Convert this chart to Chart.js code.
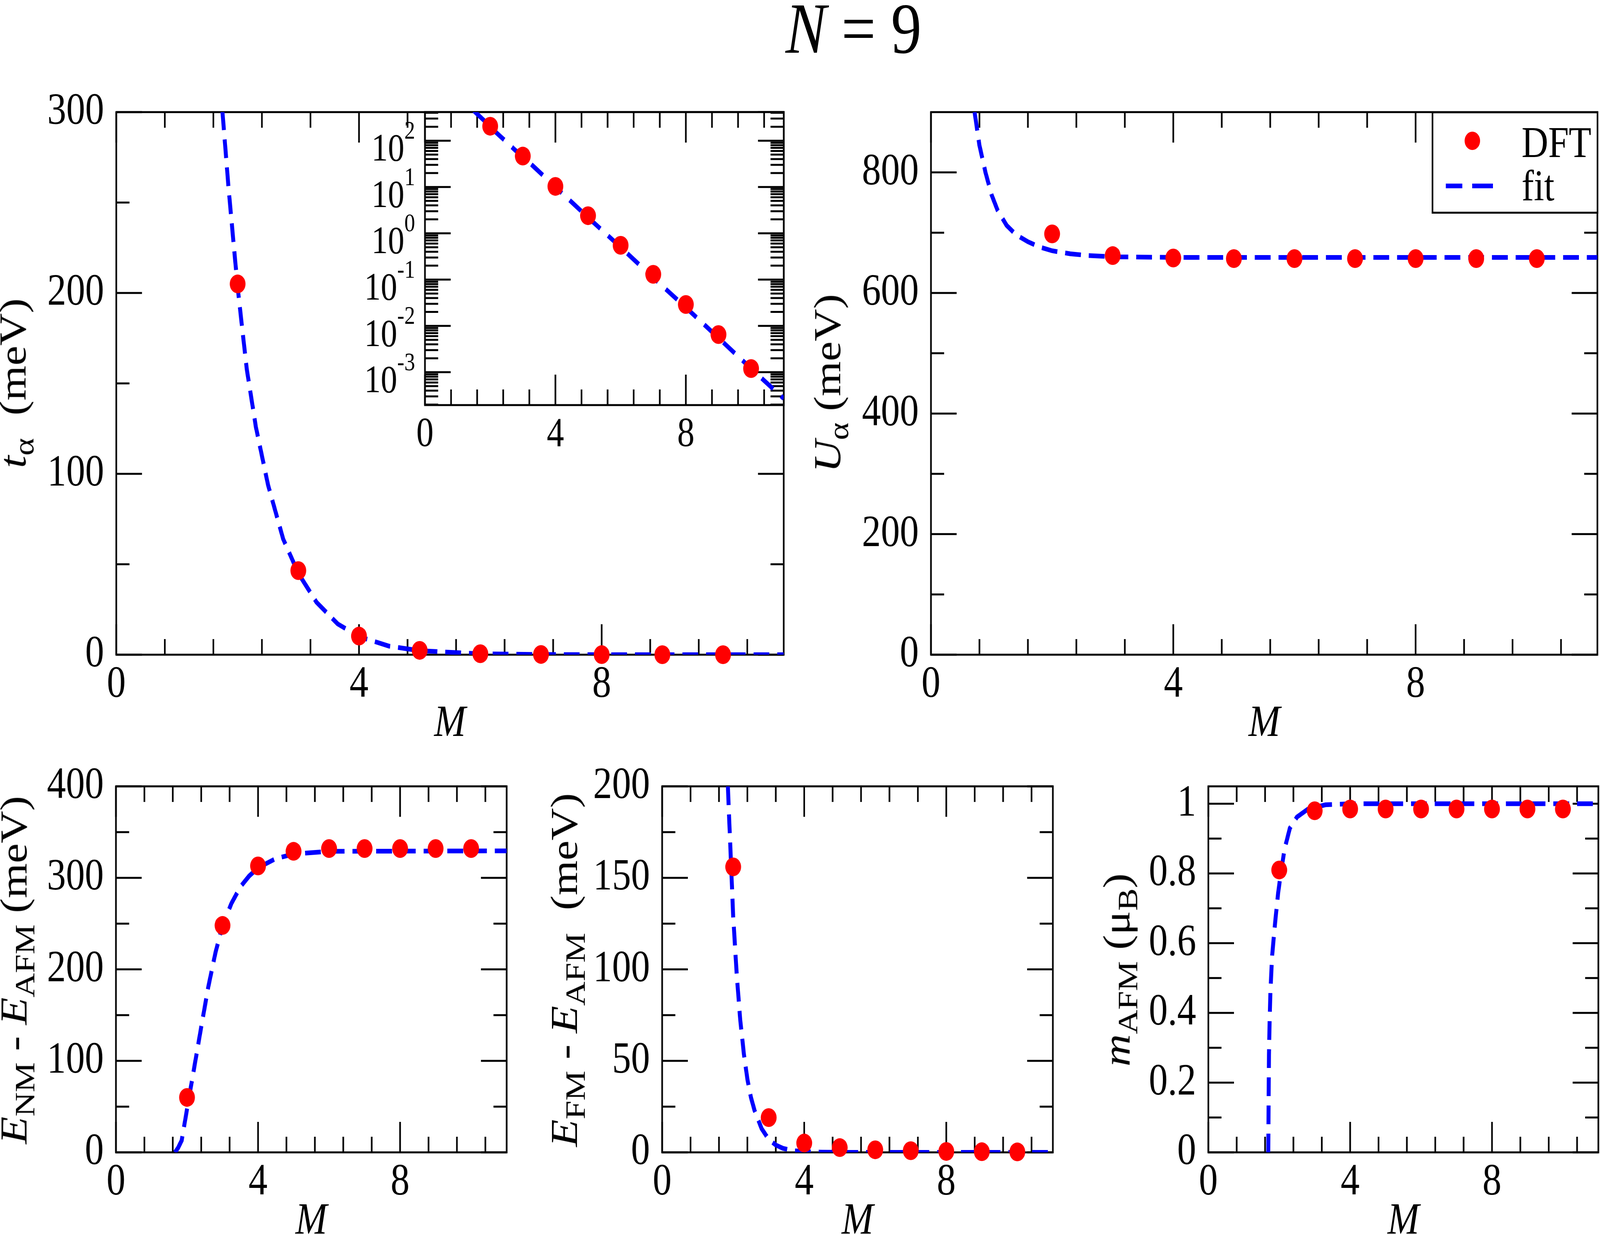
<!DOCTYPE html>
<html>
<head>
<meta charset="utf-8">
<title>N = 9</title>
<script src="https://cdn.jsdelivr.net/npm/chart.js@4.4.1/dist/chart.umd.min.js"></script>
<style>
  html, body { margin: 0; padding: 0; background: #fff; overflow: hidden; }
  body { font-family: "Liberation Serif", "Times New Roman", serif; color: #000; }
  #stage { position: absolute; left: 0; top: 0; width: 4857px; height: 3159px; transform-origin: 0 0; background: #fff; }
  #plots { position: absolute; left: 0; top: 0; width: 4857px; height: 3159px; z-index: 1; }
  #plots canvas { position: absolute; }
  .txt { position: absolute; white-space: nowrap; line-height: 1; font-size: 115px; z-index: 2; }
  .ytitle { transform: translate(-50%, -50%) rotate(-90deg); }
  .xtitle { transform: translateX(-50%); font-style: italic; }
  sub { font-size: 75%; vertical-align: baseline; position: relative; top: 0.28em; line-height: 0; }
  #legend { position: absolute; left: 4346px; top: 285px; width: 506px; height: 262px;
            border: 5px solid #000; box-sizing: border-box; background: #fff; z-index: 2; }
  .mark { position: absolute; z-index: 3; }
</style>
</head>
<body>
<div id="stage">
<div id="plots"></div>

<!-- titre général -->
<div class="txt" style="left:2591px; top:-20px; font-size:185px; transform:translateX(-50%)"><i>N</i> = 9</div>

<!-- titres des axes y -->
<div class="txt ytitle" style="left:39px; top:981px"><i>t</i><sub>α</sub>&nbsp; (meV)</div>
<div class="txt ytitle" style="left:2512px; top:981px"><i>U</i><sub>α</sub> (meV)</div>
<div class="txt ytitle" style="left:42px; top:2483px"><i>E</i><sub>NM</sub> - <i>E</i><sub>AFM</sub> (meV)</div>
<div class="txt ytitle" style="left:1713px; top:2483px"><i>E</i><sub>FM</sub> - <i>E</i><sub>AFM</sub>&nbsp; (meV)</div>
<div class="txt ytitle" style="left:3390px; top:2483px"><i>m</i><sub>AFM</sub> (μ<sub>B</sub>)</div>

<!-- titres des axes x -->
<div class="txt xtitle" style="left:1366px; top:1788px">M</div>
<div class="txt xtitle" style="left:3838px; top:1788px">M</div>
<div class="txt xtitle" style="left:945px; top:3062px">M</div>
<div class="txt xtitle" style="left:2603px; top:3062px">M</div>
<div class="txt xtitle" style="left:4260px; top:3062px">M</div>

<!-- légende du panneau U -->
<div id="legend"></div>
<div class="mark" style="left:4446px; top:337px; width:47px; height:47px; border-radius:50%; background:#ff0000"></div>
<div class="txt" style="left:4619px; top:308px; font-size:112px; z-index:3">DFT</div>
<div class="mark" style="left:4389px; top:470px; width:50px; height:12px; background:#0000ff"></div>
<div class="mark" style="left:4469px; top:470px; width:63px; height:12px; background:#0000ff"></div>
<div class="txt" style="left:4619px; top:419px; font-size:112px; z-index:3">fit</div>
</div>

<script>
// ---- données ----
const M_DFT = [2, 3, 4, 5, 6, 7, 8, 9, 10];
const tDFT = [205, 46.5, 10.3, 2.4, 0.55, 0.13, 0.029, 0.0065, 0.0012];
const uDFT = [698, 662, 658, 657, 657, 657, 657, 657, 657];
const eNmDFT = [60, 248, 313, 329, 332, 332, 332, 332, 332];
const eFmDFT = [156, 19, 5.1, 2.6, 1.4, 0.9, 0.5, 0.35, 0.25];
const mDFT = [0.81, 0.98, 0.985, 0.985, 0.985, 0.985, 0.985, 0.985, 0.985];

// courbes d'ajustement (points relevés le long des tirets)
const tFitM = [1.5, 1.75, 1.85, 2.0, 2.15, 2.3, 2.5, 2.75, 3.0, 3.3, 3.65, 4.0, 4.5, 5.0, 6.0, 7.0, 8.0, 9.0, 10.0, 11.0];
const tFit  = [440, 300, 258, 203, 158, 126, 94, 64, 45, 29, 17, 10, 4.7, 2.2, 0.5, 0.11, 0.025, 0.0055, 0.0012, 0.00027];
const uFitM = [0.72, 0.8, 0.9, 1.0, 1.1, 1.25, 1.4, 1.6, 1.8, 2.0, 2.3, 2.6, 3.0, 4.0, 11.0];
const uFit  = [900, 845, 800, 763, 737, 712, 697, 685, 676, 670, 665, 662, 660, 659, 659];
const eNmFitM = [1.66, 1.75, 1.85, 2.0, 2.2, 2.4, 2.6, 2.8, 3.0, 3.25, 3.5, 3.75, 4.0, 4.5, 5.0, 6.0, 11.0];
const eNmFit  = [0, 5, 13, 47, 92, 137, 181, 218, 248, 272, 290, 302, 311, 321, 326, 329, 329.5];
const eFmFitM = [1.85, 2.0, 2.1, 2.2, 2.3, 2.4, 2.5, 2.6, 2.8, 3.0, 3.2, 3.4, 3.7, 4.0, 4.5, 5.0, 11.0];
const eFmFit  = [200, 129, 97, 72, 54, 40, 30, 23, 13, 7.1, 4.0, 2.2, 0.9, 0.4, 0.1, 0.02, 0];
const mFitM = [1.69, 1.70, 1.71, 1.73, 1.75, 1.8, 1.88, 1.97, 2.05, 2.15, 2.3, 2.5, 2.8, 3.3, 4.0, 11.0];
const mFit  = [0, 0.15, 0.28, 0.38, 0.46, 0.565, 0.655, 0.745, 0.805, 0.87, 0.93, 0.962, 0.984, 0.997, 1.0, 1.0];

// graduations
const xMajor = [0, 4, 8];
const xMinor = [0.8, 1.6, 2.4, 3.2, 4.8, 5.6, 6.4, 7.2, 8.8, 9.6, 10.4];
const tMajor = [0, 100, 200, 300], tMinor = [50, 150, 250];
const uMajor = [0, 200, 400, 600, 800], uMinor = [100, 300, 500, 700];
const eNmMajor = [0, 100, 200, 300, 400], eNmMinor = [50, 150, 250, 350];
const eFmMajor = [0, 50, 100, 150, 200], eFmMinor = [25, 75, 125, 175];
const mMajor = [0, 0.2, 0.4, 0.6, 0.8, 1], mMinor = [0.1, 0.3, 0.5, 0.7, 0.9];
const logMajor = [1e-3, 1e-2, 1e-1, 1, 10, 100];
const logExp = ['-3', '-2', '-1', '0', '1', '2'];
const logMult = [2, 3, 4, 5, 6, 7, 8, 9];

const PADL = 300, PADR = 40, PADT = 120, PADB = 150;
const FONT = '"Liberation Serif", "Times New Roman", serif';

// la figure est composée en 4857x3159 puis ajustée à la fenêtre réelle
const SX = (window.innerWidth || 4857) / 4857;
const SY = (window.innerHeight || 3159) / 3159;
document.getElementById('stage').style.transform = 'scale(' + SX + ',' + SY + ')';
document.body.style.width = window.innerWidth + 'px';
document.body.style.height = window.innerHeight + 'px';

// cadre + graduations rentrantes (style xmgrace)
const frameTicks = {
  id: 'frameTicks',
  beforeDraw(chart, args, opts) {
    if (!opts.whiteBg) return;
    const a = chart.chartArea, ctx = chart.ctx;
    ctx.save();
    ctx.fillStyle = '#fff';
    ctx.fillRect(a.left, a.top, a.right - a.left, a.bottom - a.top);
    ctx.restore();
  },
  beforeDatasetsDraw(chart, args, opts) {
    const {ctx, chartArea: a} = chart;
    const xs = chart.scales.x, ys = chart.scales.y;
    ctx.save();
    ctx.strokeStyle = '#000';
    ctx.lineWidth = 5;
    ctx.lineCap = 'butt';
    ctx.beginPath();
    const vTick = (v, len) => {
      const p = xs.getPixelForValue(v);
      ctx.moveTo(p, a.bottom); ctx.lineTo(p, a.bottom - len);
      ctx.moveTo(p, a.top); ctx.lineTo(p, a.top + len);
    };
    const hTick = (v, len) => {
      const p = ys.getPixelForValue(v);
      ctx.moveTo(a.left, p); ctx.lineTo(a.left + len, p);
      ctx.moveTo(a.right, p); ctx.lineTo(a.right - len, p);
    };
    opts.xMajor.forEach(v => vTick(v, 78));
    opts.xMinor.forEach(v => vTick(v, 40));
    opts.yMajor.forEach(v => hTick(v, 78));
    opts.yMinor.forEach(v => hTick(v, 40));
    ctx.stroke();
    ctx.strokeRect(a.left, a.top, a.right - a.left, a.bottom - a.top);

    // étiquettes 10^n de l'encart
    if (opts.expLabels) {
      ctx.fillStyle = '#000';
      ctx.textAlign = 'right';
      ctx.textBaseline = 'middle';
      const xr = a.left - 30;
      opts.yMajor.forEach((v, i) => {
        const p = ys.getPixelForValue(v);
        ctx.font = '65px ' + FONT;
        const e = opts.expLabels[i];
        const we = ctx.measureText(e).width;
        ctx.fillText(e, xr, p - 22);
        ctx.font = '100px ' + FONT;
        ctx.fillText('10', xr - we, p + 25);
      });
    }
    ctx.restore();
  }
};

function makePanel(box, cfg) {
  const cv = document.createElement('canvas');
  const w = box.r - box.l + PADL + PADR, h = box.b - box.t + PADT + PADB;
  cv.style.left = (box.l - PADL) + 'px';
  cv.style.top = (box.t - PADT) + 'px';
  cv.style.width = w + 'px';
  cv.style.height = h + 'px';
  cv.width = w; cv.height = h;
  document.getElementById('plots').appendChild(cv);

  const fs = cfg.font || 115;
  return new Chart(cv, {
    type: 'scatter',
    data: {
      datasets: [
        {
          label: 'DFT',
          data: M_DFT.map((m, i) => ({x: m, y: cfg.dft[i]})),
          pointRadius: 24, pointHoverRadius: 24,
          pointBackgroundColor: '#ff0000', pointBorderColor: '#ff0000', pointBorderWidth: 0,
          showLine: false, clip: false
        },
        {
          label: 'fit',
          data: cfg.fitM.map((m, i) => ({x: m, y: cfg.fit[i]})),
          showLine: true, borderColor: '#0000ff', borderWidth: 12,
          borderDash: cfg.dash || [48, 24], borderCapStyle: 'butt',
          pointRadius: 0, tension: 0, fill: false
        }
      ]
    },
    options: {
      responsive: false, animation: false, devicePixelRatio: 1, events: [],
      layout: {padding: {left: 0, right: PADR, top: PADT, bottom: 0}},
      plugins: {
        legend: {display: false}, tooltip: {enabled: false},
        frameTicks: {
          xMajor: xMajor, xMinor: xMinor,
          yMajor: cfg.yMajor, yMinor: cfg.yMinor,
          whiteBg: !!cfg.whiteBg, expLabels: cfg.expLabels || null
        }
      },
      scales: {
        x: {
          type: 'linear', min: 0, max: 11,
          grid: {display: false, drawTicks: false}, border: {display: false},
          ticks: {font: {family: FONT, size: fs}, color: '#000', padding: cfg.xPad || 9,
                  maxRotation: 0, autoSkip: false, callback: v => String(v)},
          afterBuildTicks: s => { s.ticks = xMajor.map(v => ({value: v})); },
          afterFit: s => { s.height = PADB; }
        },
        y: {
          type: cfg.log ? 'logarithmic' : 'linear', min: cfg.yMin, max: cfg.yMax,
          grid: {display: false, drawTicks: false}, border: {display: false},
          ticks: {display: !cfg.log, font: {family: FONT, size: fs}, color: '#000', padding: 37,
                  autoSkip: false, callback: v => String(+Number(v).toFixed(2))},
          afterBuildTicks: s => { s.ticks = cfg.yMajor.map(v => ({value: v})); },
          afterFit: s => { s.width = PADL; }
        }
      }
    },
    plugins: [frameTicks]
  });
}

// petites graduations logarithmiques de l'encart
const logMinor = [];
[1e-4, 1e-3, 1e-2, 1e-1, 1, 10, 100].forEach(d => logMult.forEach(k => logMinor.push(k * d)));

// t_alpha
makePanel({l: 353, t: 287, r: 2379, b: 1676},
  {dft: tDFT, fitM: tFitM, fit: tFit, yMin: 0, yMax: 300, yMajor: tMajor, yMinor: tMinor});
// encart log
makePanel({l: 1290, t: 287, r: 2379, b: 1037},
  {dft: tDFT, fitM: tFitM, fit: tFit, log: true, yMin: 1.95e-4, yMax: 414,
   yMajor: logMajor, yMinor: logMinor.filter(v => v > 1.95e-4 && v < 414),
   expLabels: logExp, whiteBg: true, font: 105, xPad: 14, dash: [44, 30]});
// U_alpha
makePanel({l: 2826, t: 287, r: 4849, b: 1676},
  {dft: uDFT, fitM: uFitM, fit: uFit, yMin: 0, yMax: 900, yMajor: uMajor, yMinor: uMinor});
// E_NM - E_AFM
makePanel({l: 352, t: 2013, r: 1538, b: 2950},
  {dft: eNmDFT, fitM: eNmFitM, fit: eNmFit, yMin: 0, yMax: 400, yMajor: eNmMajor, yMinor: eNmMinor});
// E_FM - E_AFM
makePanel({l: 2010, t: 2013, r: 3196, b: 2950},
  {dft: eFmDFT, fitM: eFmFitM, fit: eFmFit, yMin: 0, yMax: 200, yMajor: eFmMajor, yMinor: eFmMinor});
// m_AFM
makePanel({l: 3668, t: 2013, r: 4852, b: 2950},
  {dft: mDFT, fitM: mFitM, fit: mFit, yMin: 0, yMax: 1.05, yMajor: mMajor, yMinor: mMinor});
</script>
</body>
</html>
